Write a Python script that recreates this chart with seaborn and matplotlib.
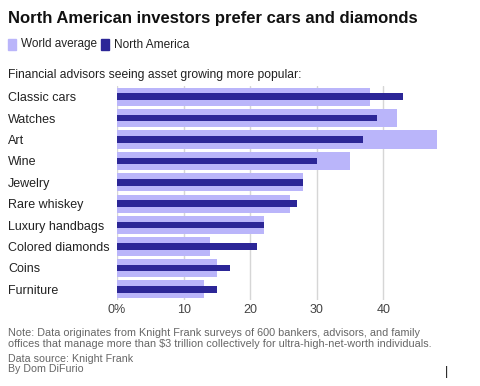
import matplotlib
matplotlib.use("Agg")
import matplotlib.pyplot as plt
import seaborn as sns
import pandas as pd

categories = ["Classic cars", "Watches", "Art", "Wine", "Jewelry", "Rare whiskey",
              "Luxury handbags", "Colored diamonds", "Coins", "Furniture"]
world_average = [38, 42, 48, 35, 28, 26, 22, 14, 15, 13]
north_america = [43, 39, 37, 30, 28, 27, 22, 21, 17, 15]
x_ticks = [0, 10, 20, 30, 40]
x_tick_labels = ["0%", "10", "20", "30", "40"]

sns.set_theme(style="white")
plt.rcParams["font.family"] = ["Liberation Sans", "DejaVu Sans"]

df = pd.DataFrame({"asset": categories, "world": world_average, "na": north_america})

fig = plt.figure(figsize=(4.8, 3.86), dpi=100)
ax = fig.add_axes([117 / 480, 1 - 300 / 386, (440 - 117) / 480, (300 - 86) / 386])

light = "#bab5fa"
dark = "#2c2697"

sns.barplot(data=df, y="asset", x="world", order=categories, color=light,
            width=0.85, ax=ax, saturation=1, linewidth=0, zorder=2)
sns.barplot(data=df, y="asset", x="na", order=categories, color=dark,
            width=0.3, ax=ax, saturation=1, linewidth=0, zorder=3)

ax.set_xlim(0, 48.5)
ax.set_ylim(9.5, -0.5)
ax.set_xticks(x_ticks)
ax.set_xticklabels(x_tick_labels, fontsize=9, color="#444444")
ax.xaxis.grid(True, color="#d6d6d6", linewidth=1, zorder=0)
ax.set_axisbelow(True)
ax.set_xlabel("")
ax.set_ylabel("")
for s in ax.spines.values():
    s.set_visible(False)
ax.tick_params(axis="x", length=0, pad=3)
ax.tick_params(axis="y", length=0, pad=(117 - 8) * 0.72)
for lab in ax.get_yticklabels():
    lab.set_horizontalalignment("left")
    lab.set_fontsize(9)
    lab.set_color("#222222")

fig.text(8 / 480, 1 - 18 / 386, "North American investors prefer cars and diamonds",
         fontsize=12, fontweight="bold", color="#111111", va="center", ha="left")

# legend
fig.patches.append(matplotlib.patches.Rectangle((8 / 480, 1 - 50 / 386), 8 / 480, 11 / 386,
                   transform=fig.transFigure, color=light, figure=fig))
fig.text(21 / 480, 1 - 44.5 / 386, "World average", fontsize=8.5, color="#222222",
         va="center", ha="left")
fig.patches.append(matplotlib.patches.Rectangle((101 / 480, 1 - 50 / 386), 8 / 480, 11 / 386,
                   transform=fig.transFigure, color=dark, figure=fig))
fig.text(114 / 480, 1 - 44.5 / 386, "North America", fontsize=8.6, color="#222222",
         va="center", ha="left")

fig.text(8 / 480, 1 - 75 / 386, "Financial advisors seeing asset growing more popular:",
         fontsize=8.7, color="#222222", va="center", ha="left")

fig.text(8 / 480, 1 - 338.5 / 386,
         "Note: Data originates from Knight Frank surveys of 600 bankers, advisors, and family\n"
         "offices that manage more than $3 trillion collectively for ultra-high-net-worth individuals.",
         fontsize=7.8, color="#666666", va="center", ha="left", linespacing=1.2)
fig.text(8 / 480, 1 - 358.5 / 386, "Data source: Knight Frank", fontsize=7.7,
         color="#666666", va="center", ha="left")
fig.text(8 / 480, 1 - 369.5 / 386, "By Dom DiFurio", fontsize=7.7,
         color="#666666", va="center", ha="left")
fig.text(447 / 480, 1 - 372 / 386, "|", fontsize=9, color="#111111", va="center", ha="center")

fig.savefig("out.png", dpi=100)
